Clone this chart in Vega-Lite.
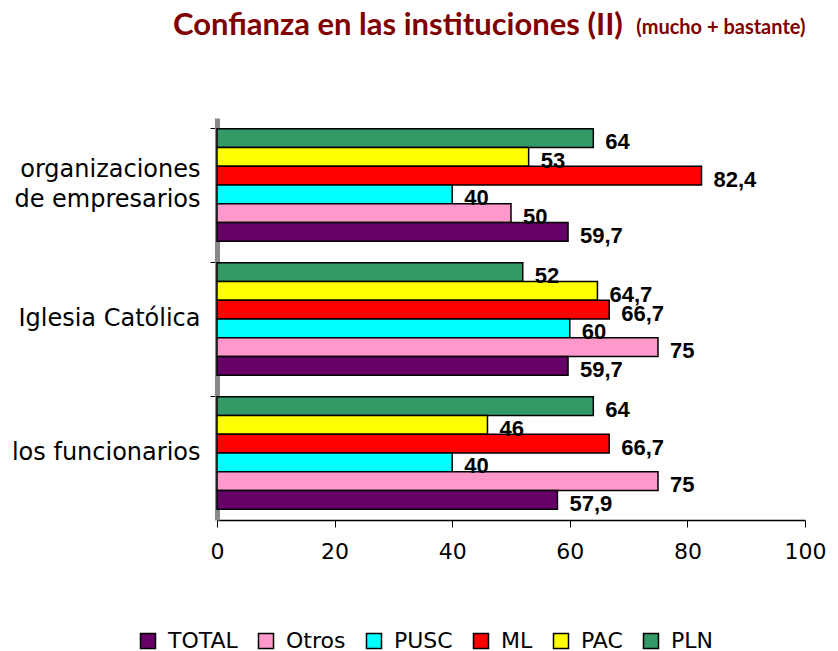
{
  "$schema": "https://vega.github.io/schema/vega-lite/v6.json",
  "autosize": "none",
  "padding": {"left": 217, "top": 118, "right": 33, "bottom": 131},
  "width": 588,
  "height": 402,
  "background": "white",
  "title": {
    "text": "Confianza en las instituciones (II)",
    "anchor": "start",
    "align": "left",
    "frame": "group",
    "dx": -44,
    "font": "Lato",
    "fontSize": 31,
    "fontWeight": "bold",
    "color": "#800000",
    "offset": -25
  },
  "data": {
    "values": [
      {"inst": "organizaciones de empresarios", "partido": "PLN", "valor": 64, "etiqueta": "64"},
      {"inst": "organizaciones de empresarios", "partido": "PAC", "valor": 53, "etiqueta": "53"},
      {"inst": "organizaciones de empresarios", "partido": "ML", "valor": 82.4, "etiqueta": "82,4"},
      {"inst": "organizaciones de empresarios", "partido": "PUSC", "valor": 40, "etiqueta": "40"},
      {"inst": "organizaciones de empresarios", "partido": "Otros", "valor": 50, "etiqueta": "50"},
      {"inst": "organizaciones de empresarios", "partido": "TOTAL", "valor": 59.7, "etiqueta": "59,7"},
      {"inst": "Iglesia Católica", "partido": "PLN", "valor": 52, "etiqueta": "52"},
      {"inst": "Iglesia Católica", "partido": "PAC", "valor": 64.7, "etiqueta": "64,7"},
      {"inst": "Iglesia Católica", "partido": "ML", "valor": 66.7, "etiqueta": "66,7"},
      {"inst": "Iglesia Católica", "partido": "PUSC", "valor": 60, "etiqueta": "60"},
      {"inst": "Iglesia Católica", "partido": "Otros", "valor": 75, "etiqueta": "75"},
      {"inst": "Iglesia Católica", "partido": "TOTAL", "valor": 59.7, "etiqueta": "59,7"},
      {"inst": "los funcionarios", "partido": "PLN", "valor": 64, "etiqueta": "64"},
      {"inst": "los funcionarios", "partido": "PAC", "valor": 46, "etiqueta": "46"},
      {"inst": "los funcionarios", "partido": "ML", "valor": 66.7, "etiqueta": "66,7"},
      {"inst": "los funcionarios", "partido": "PUSC", "valor": 40, "etiqueta": "40"},
      {"inst": "los funcionarios", "partido": "Otros", "valor": 75, "etiqueta": "75"},
      {"inst": "los funcionarios", "partido": "TOTAL", "valor": 57.9, "etiqueta": "57,9"}
    ]
  },
  "encoding": {
    "y": {
      "field": "inst",
      "type": "nominal",
      "sort": ["organizaciones de empresarios", "Iglesia Católica", "los funcionarios"],
      "scale": {"paddingInner": 0.16, "paddingOuter": 0.08},
      "axis": {
        "title": null,
        "bandPosition": 0,
        "labelExpr": "datum.value == 'organizaciones de empresarios' ? ['organizaciones', 'de empresarios'] : datum.value",
        "labelOffset": {"condition": {"test": "datum.value == 'organizaciones de empresarios'", "value": -15}, "value": 0},
        "labelFont": "DejaVu Sans",
        "labelFontSize": 24,
        "labelColor": "black",
        "labelPadding": 10,
        "labelLineHeight": 30,
        "labelLimit": 300,
        "tickColor": "black",
        "tickSize": 7,
        "domainColor": "#888888",
        "domainWidth": 5
      }
    },
    "yOffset": {
      "field": "partido",
      "type": "nominal",
      "sort": ["PLN", "PAC", "ML", "PUSC", "Otros", "TOTAL"],
      "scale": {"paddingInner": 0, "paddingOuter": 0}
    }
  },
  "layer": [
    {
      "mark": {"type": "bar", "stroke": "black", "strokeWidth": 1.5},
      "encoding": {
        "x": {
          "field": "valor",
          "type": "quantitative",
          "scale": {"domain": [0, 100], "nice": false},
          "axis": {
            "title": null,
            "orient": "bottom",
            "values": [0, 20, 40, 60, 80, 100],
            "grid": false,
            "labelFont": "DejaVu Sans",
            "labelFontSize": 22,
            "labelColor": "black",
            "labelPadding": 14,
            "tickColor": "black",
            "tickSize": 7,
            "domainColor": "black",
            "domainWidth": 1.5,
            "labelFlush": false
          }
        },
        "color": {
          "field": "partido",
          "type": "nominal",
          "scale": {
            "domain": ["TOTAL", "Otros", "PUSC", "ML", "PAC", "PLN"],
            "range": ["#660066", "#FF99CC", "#00FFFF", "#FF0000", "#FFFF00", "#339966"]
          },
          "legend": {
            "title": null,
            "orient": "none",
            "direction": "horizontal",
            "legendX": -80,
            "legendY": 512,
            "symbolType": "square",
            "symbolSize": 225,
            "symbolStrokeColor": "black",
            "symbolStrokeWidth": 1.5,
            "symbolOpacity": 1,
            "labelFont": "DejaVu Sans",
            "labelFontSize": 22,
            "labelColor": "black",
            "labelOffset": 9,
            "labelLimit": 200,
            "columnPadding": 17
          }
        }
      }
    },
    {
      "mark": {
        "type": "text",
        "align": "left",
        "baseline": "middle",
        "dx": 12,
        "dy": 4,
        "font": "Liberation Sans",
        "fontSize": 22,
        "fontWeight": "bold",
        "color": "black"
      },
      "encoding": {
        "x": {
          "field": "valor",
          "type": "quantitative",
          "scale": {"domain": [0, 100], "nice": false},
          "axis": {
            "orient": "top",
            "title": "(mucho + bastante)",
            "titleFont": "Lato",
            "titleFontSize": 20,
            "titleFontWeight": "bold",
            "titleColor": "#800000",
            "titleAnchor": "end",
            "titleAlign": "right",
            "titleBaseline": "alphabetic",
            "titlePadding": 85,
            "domain": false,
            "ticks": false,
            "labels": false,
            "grid": false
          }
        },
        "text": {"field": "etiqueta"}
      }
    }
  ],
  "resolve": {"axis": {"x": "independent"}},
  "config": {"view": {"stroke": null}}
}
